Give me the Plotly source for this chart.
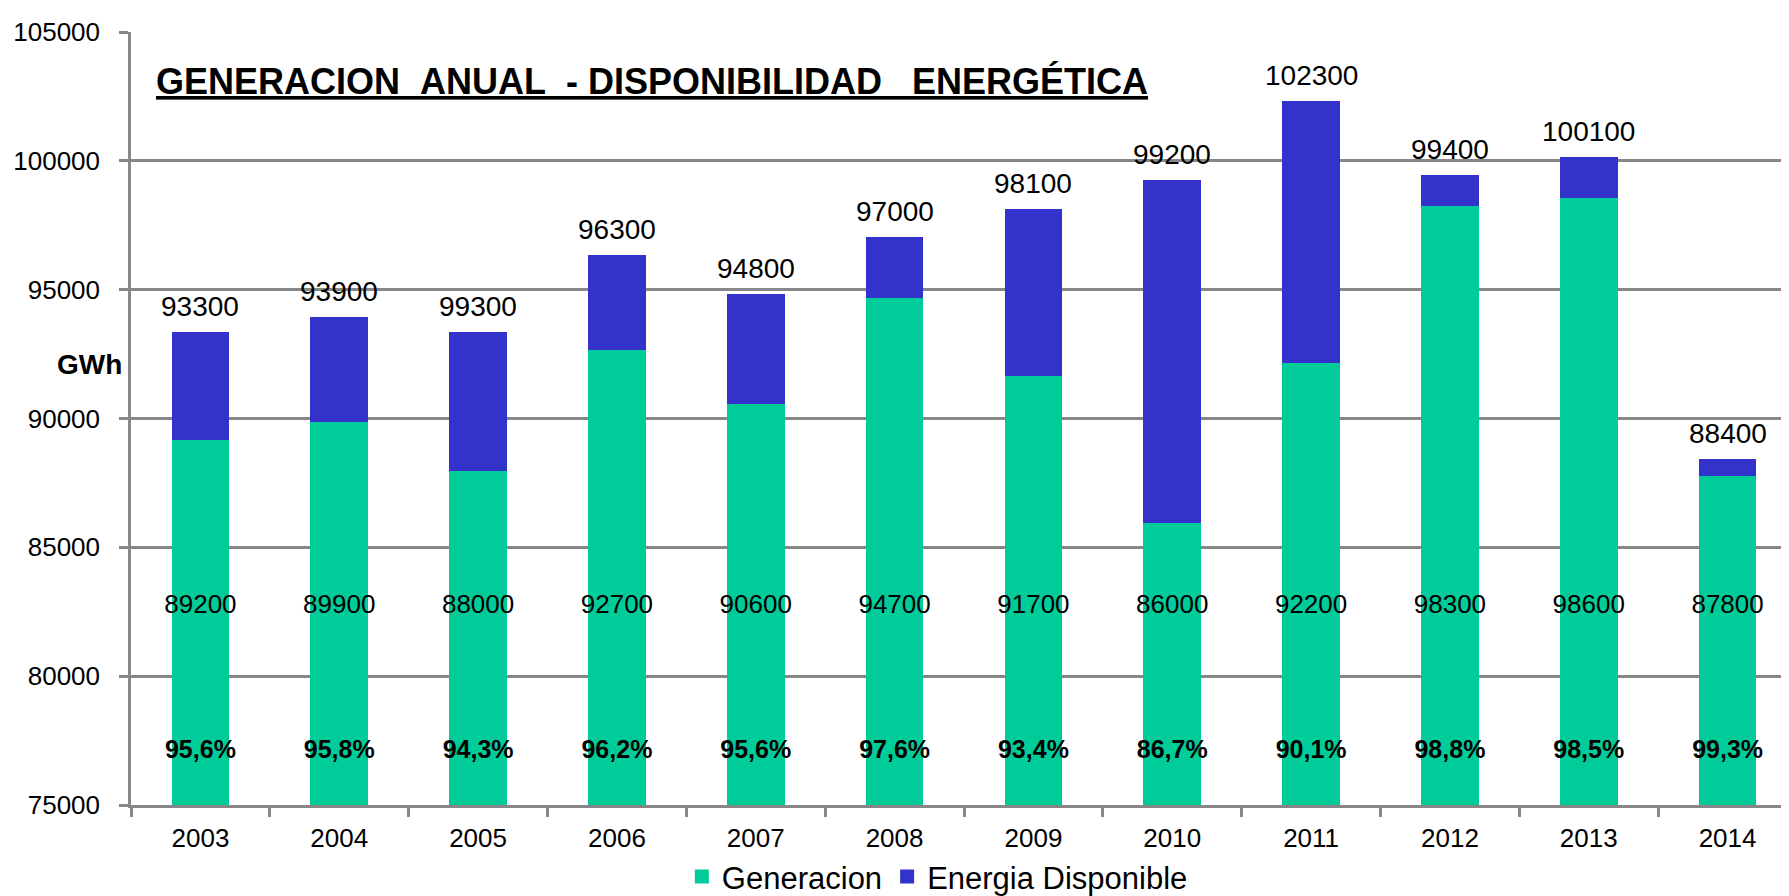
import plotly.graph_objects as go

years = ["2003", "2004", "2005", "2006", "2007", "2008", "2009", "2010", "2011", "2012", "2013", "2014"]
generacion = [89200, 89900, 88000, 92700, 90600, 94700, 91700, 86000, 92200, 98300, 98600, 87800]
disponible_total = [93300, 93900, 93300, 96300, 94800, 97000, 98100, 99200, 102300, 99400, 100100, 88400]
total_labels = ["93300", "93900", "99300", "96300", "94800", "97000", "98100", "99200", "102300", "99400", "100100", "88400"]
porcentajes = ["95,6%", "95,8%", "94,3%", "96,2%", "95,6%", "97,6%", "93,4%", "86,7%", "90,1%", "98,8%", "98,5%", "99,3%"]
y_ticks = [75000, 80000, 85000, 90000, 95000, 100000, 105000]

GREEN = "#00CC99"
BLUE = "#3333CC"
GRID = "#878787"
FONT = "Liberation Sans, Arial, sans-serif"

energia_extra = [t - g for t, g in zip(disponible_total, generacion)]
y_min, y_max = y_ticks[0], y_ticks[-1]
gen_label_level = y_min + 7700
pct_label_level = y_min + 2050

fig = go.Figure()
fig.add_trace(go.Bar(
    x=years, y=generacion, name="Generacion",
    marker=dict(color=GREEN, line=dict(color=GREEN, width=2)), hoverinfo="skip",
))
fig.add_trace(go.Bar(
    x=years, y=energia_extra, name="Energia Disponible",
    marker=dict(color=BLUE, line=dict(color=BLUE, width=2)), hoverinfo="skip",
))
# generation labels
fig.add_trace(go.Scatter(
    x=years, y=[gen_label_level] * len(years), mode="text",
    text=[str(g) for g in generacion], textposition="middle center",
    textfont=dict(family=FONT, size=26, color="black"),
    showlegend=False, hoverinfo="skip",
))
# percentage labels
fig.add_trace(go.Scatter(
    x=years, y=[pct_label_level] * len(years), mode="text",
    text=["<b>" + p + "</b>" for p in porcentajes], textposition="middle center",
    textfont=dict(family=FONT, size=25, color="black"),
    showlegend=False, hoverinfo="skip",
))

annotations = [
    dict(
        text="<b><u>GENERACION\u00a0\u00a0ANUAL\u00a0\u00a0-\u00a0DISPONIBILIDAD\u00a0\u00a0\u00a0ENERGÉTICA</u></b>",
        xref="paper", yref="paper", x=(146 - 123) / 1667, y=(806 - 74) / 782,
        xanchor="left", yanchor="middle", showarrow=False,
        font=dict(family=FONT, size=36, color="black"),
    ),
    dict(
        text="<b>GWh</b>", xref="paper", yref="paper",
        x=(81 - 123) / 1667, y=(806 - 360) / 782,
        xanchor="center", yanchor="middle", showarrow=False,
        font=dict(family=FONT, size=28, color="black"),
    ),
]
# total labels above bars (category index positions)
for i, (tot, lab) in enumerate(zip(disponible_total, total_labels)):
    annotations.append(dict(
        x=i, y=tot, xref="x", yref="y", text=lab, showarrow=False,
        xanchor="center", yanchor="bottom", yshift=9,
        font=dict(family=FONT, size=28, color="black"),
    ))

fig.update_layout(
    width=1789, height=896,
    margin=dict(l=123, r=0, t=24, b=90),
    paper_bgcolor="white", plot_bgcolor="white",
    barmode="stack", bargap=0.6,
    font=dict(family=FONT, color="black"),
    showlegend=True,
    legend=dict(
        orientation="h", x=0.484, xanchor="center", y=-0.093, yanchor="middle",
        font=dict(family=FONT, size=31, color="black"),
        traceorder="normal", itemclick=False,
    ),
    annotations=annotations,
)
fig.update_xaxes(
    type="category", range=[-0.5, len(years) - 0.5], automargin=False,
    showgrid=False, showline=True, linecolor=GRID, linewidth=2.5,
    ticks="outside", tickson="boundaries", ticklen=9, tickcolor=GRID, tickwidth=2.5,
    ticklabelstandoff=8,
    tickfont=dict(family=FONT, size=26, color="black"),
)
fig.update_yaxes(
    range=[y_min, y_max], tickvals=y_ticks, tickformat="d", automargin=False,
    showgrid=True, gridcolor=GRID, gridwidth=2.5,
    showline=True, linecolor=GRID, linewidth=2.5,
    ticks="outside", ticklen=9, tickcolor=GRID, tickwidth=2.5,
    ticklabelstandoff=14,
    tickfont=dict(family=FONT, size=26, color="black"),
    zeroline=False,
)

fig.write_html("out.html")
